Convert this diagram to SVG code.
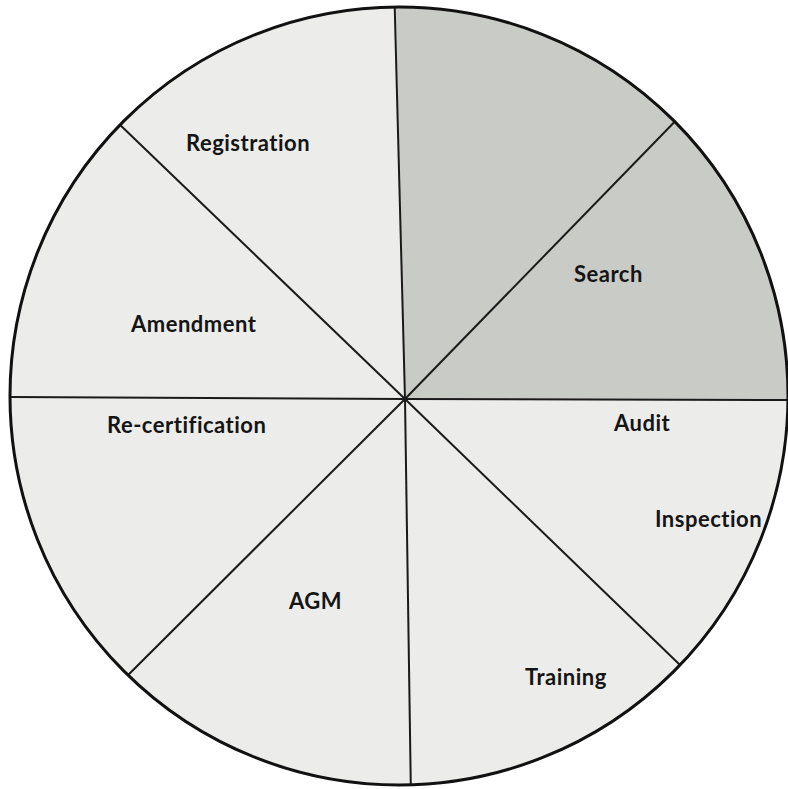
<svg xmlns="http://www.w3.org/2000/svg" width="788" height="789" viewBox="0 0 788 789">
<style>
.dark{fill:#c9cbc6;}
.light{fill:#ececea;}
.lbl{font-family:Lato,"Open Sans","Liberation Sans",sans-serif;font-size:22px;font-weight:bold;letter-spacing:0.5px;fill:#151515;}
.spoke{stroke:#1a1a1a;stroke-width:2;fill:none;}
</style>
<defs>
<clipPath id="disc"><circle cx="399" cy="396" r="389"/></clipPath>
</defs>
<rect width="788" height="789" fill="#ffffff"/>
<g id="slices">
<circle id="s-base" class="light" cx="399" cy="396" r="389"/>
<polygon id="s-dark" class="dark" clip-path="url(#disc)" points="405,399 395,-20 800,-20 800,400"/>
</g>
<g id="connectors" clip-path="url(#disc)">
<line class="spoke" x1="405" y1="399" x2="394" y2="-20"/>
<line class="spoke" x1="405" y1="399" x2="725" y2="70"/>
<line class="spoke" x1="405" y1="399" x2="800" y2="400"/>
<line class="spoke" x1="405" y1="399" x2="740" y2="723"/>
<line class="spoke" x1="405" y1="399" x2="411" y2="800"/>
<line class="spoke" x1="405" y1="399" x2="85" y2="718"/>
<line class="spoke" x1="405" y1="399" x2="-10" y2="397"/>
<line class="spoke" x1="405" y1="399" x2="63" y2="70"/>
</g>
<circle cx="399" cy="396" r="389" fill="none" stroke="#111" stroke-width="3"/>
<g id="n-registration"><text class="lbl" x="186" y="151">Registration</text></g>
<g id="n-search"><text class="lbl" x="574" y="282">Search</text></g>
<g id="n-amendment"><text class="lbl" x="131" y="332">Amendment</text></g>
<g id="n-recertification"><text class="lbl" x="107" y="433">Re-certification</text></g>
<g id="n-audit"><text class="lbl" x="614" y="431">Audit</text></g>
<g id="n-inspection"><text class="lbl" x="655" y="527">Inspection</text></g>
<g id="n-agm"><text class="lbl" x="289" y="609">AGM</text></g>
<g id="n-training"><text class="lbl" x="525" y="685">Training</text></g>
</svg>
